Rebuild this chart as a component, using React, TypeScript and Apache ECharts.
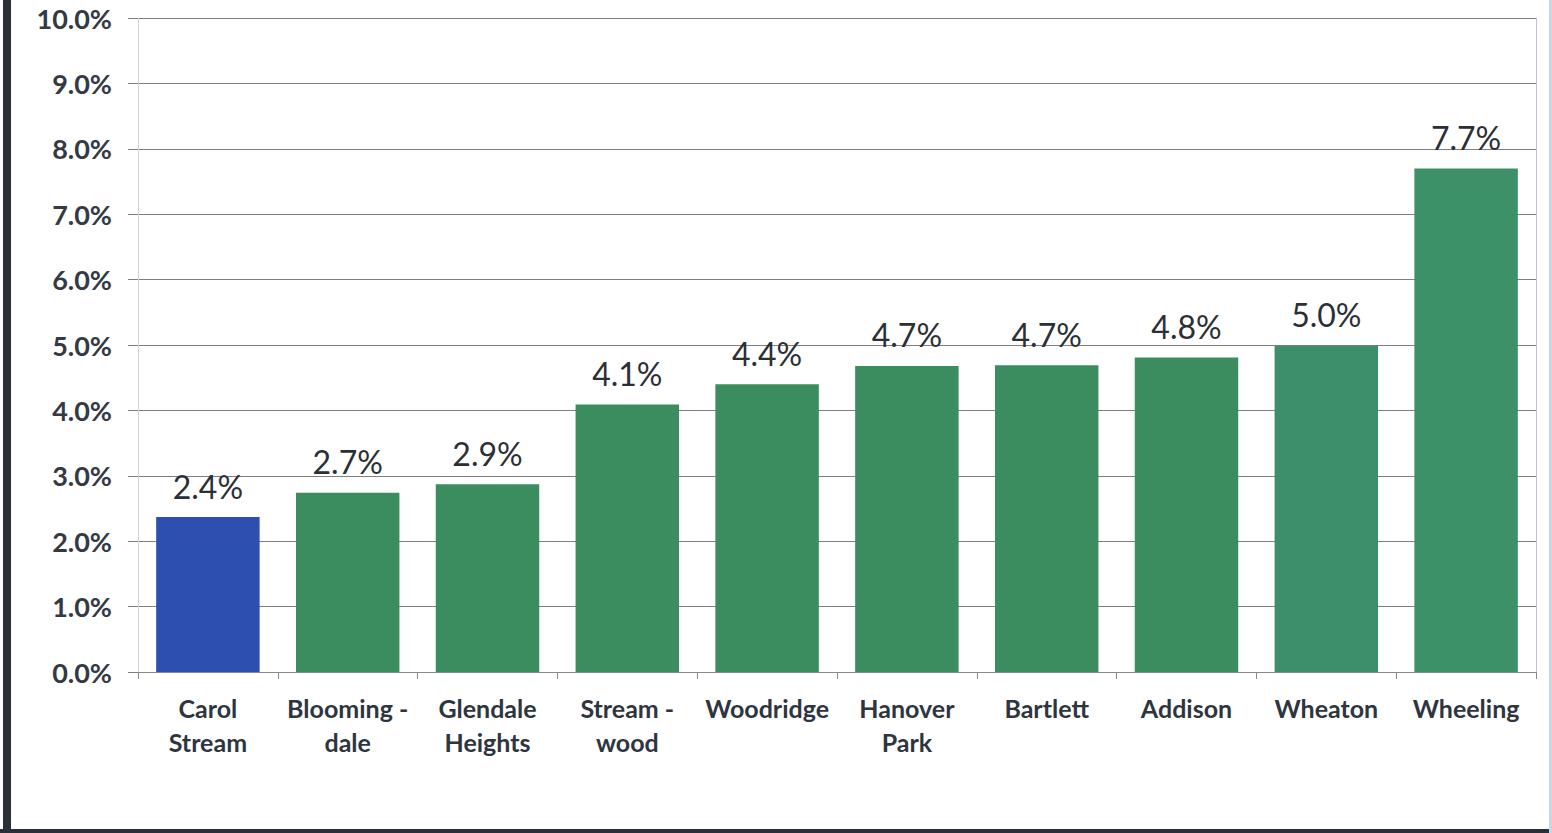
import React, { useEffect, useRef } from "react";
import * as echarts from "echarts";

const categories = [
  "Carol\nStream",
  "Blooming -\ndale",
  "Glendale\nHeights",
  "Stream -\nwood",
  "Woodridge",
  "Hanover\nPark",
  "Bartlett",
  "Addison",
  "Wheaton",
  "Wheeling",
];
const values = [2.37, 2.74, 2.87, 4.09, 4.4, 4.68, 4.69, 4.81, 4.99, 7.7];
const labels = ["2.4%", "2.7%", "2.9%", "4.1%", "4.4%", "4.7%", "4.7%", "4.8%", "5.0%", "7.7%"];
const barColors = [
  "#2c4fb0", "#3b8c5f", "#3b8c5f", "#3b8c5f", "#3b8c5f",
  "#3b8c5f", "#3b8c5f", "#3b8c5f", "#3d8f6c", "#3d9168",
];

export default function App() {
  const ref = useRef<HTMLDivElement>(null);
  useEffect(() => {
    document.body.style.margin = "0";
    const chart = echarts.init(ref.current!, null, { renderer: "svg" });
    chart.setOption({
      animation: false,
      backgroundColor: "#ffffff",
      grid: { left: 138, right: 16, top: 18, bottom: 161, containLabel: false },
      graphic: [
        { type: "rect", shape: { x: 3, y: 0, width: 8, height: 833 }, style: { fill: "#2b2f37" } },
        { type: "rect", shape: { x: 0, y: 829, width: 1552, height: 4 }, style: { fill: "#2b2f37" } },
        { type: "rect", shape: { x: 1549, y: 0, width: 3, height: 833 }, style: { fill: "#c9d6e6" } },
      ],
      xAxis: {
        type: "category",
        data: categories,
        axisLine: { show: true, lineStyle: { color: "#8a8a8a", width: 1 } },
        axisTick: { show: true, length: 7, lineStyle: { color: "#8a8a8a" } },
        axisLabel: {
          interval: 0,
          margin: 19,
          color: "#2f3540",
          fontFamily: "Lato",
          fontWeight: "bold",
          fontSize: 25,
          lineHeight: 34,
        },
      },
      yAxis: [
        {
          type: "value",
          min: 0,
          max: 10,
          interval: 1,
          axisLine: { show: true, lineStyle: { color: "#c8d4e4", width: 1 } },
          axisTick: { show: true, length: 10, lineStyle: { color: "#7f7f7f" } },
          splitLine: { show: true, lineStyle: { color: "#7f7f7f", width: 1 } },
          axisLabel: {
            formatter: (v: number) => v.toFixed(1) + "%",
            color: "#333a44",
            fontFamily: "Lato",
            fontWeight: "bold",
            fontSize: 27,
            margin: 26,
          },
        },
        {
          type: "value",
          position: "right",
          min: 0,
          max: 10,
          interval: 1,
          axisLine: { show: true, lineStyle: { color: "#c8c0cc", width: 1 } },
          axisTick: { show: false },
          splitLine: { show: false },
          axisLabel: { show: false },
        },
      ],
      series: [
        {
          type: "bar",
          data: values.map((v, i) => ({ value: v, itemStyle: { color: barColors[i] } })),
          barCategoryGap: "26%",
          label: {
            show: true,
            position: "top",
            distance: 15,
            formatter: (p: any) => labels[p.dataIndex],
            color: "#2b2f36",
            fontFamily: "Lato",
            fontSize: 32,
          },
        },
      ],
    });
    return () => chart.dispose();
  }, []);
  return <div ref={ref} style={{ width: 1552, height: 833 }} />;
}
